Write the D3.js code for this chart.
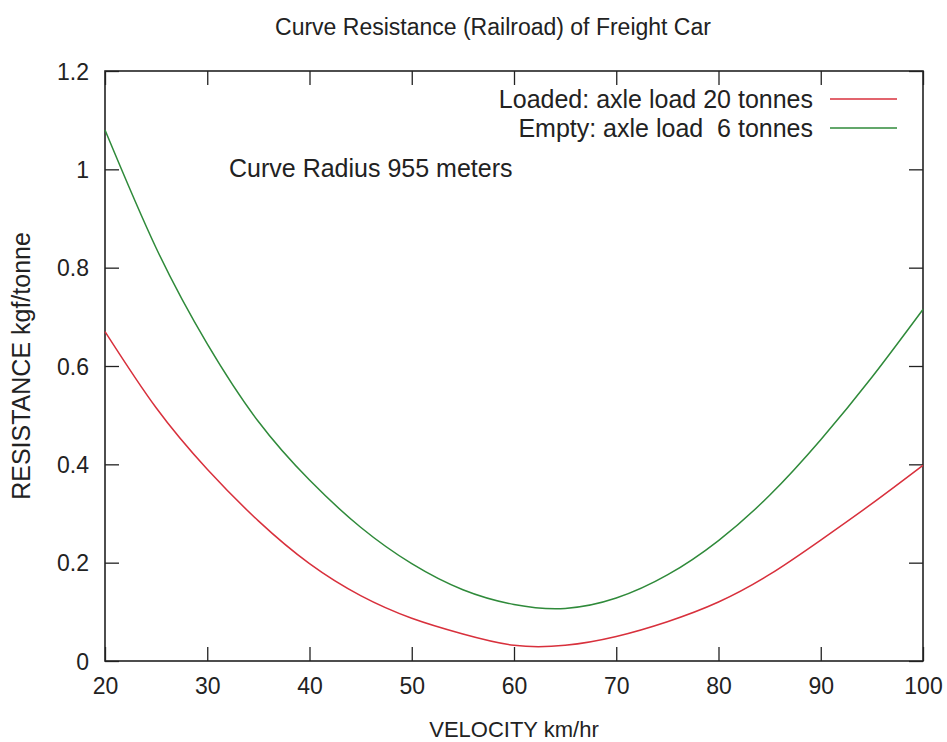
<!DOCTYPE html>
<html>
<head>
<meta charset="utf-8">
<script src="https://cdn.jsdelivr.net/npm/d3@7"></script>
<style>
  body { margin: 0; background: #fff; }
  text { font-family: "Liberation Sans", Arial, sans-serif; fill: #222; }
</style>
</head>
<body>
<svg id="chart" width="947" height="742"></svg>
<script>
const velocity = [20, 25, 30, 35, 40, 45, 50, 55, 60, 65, 70, 75, 80, 85, 90, 95, 100];
const loaded   = [0.67, 0.515, 0.39, 0.285, 0.198, 0.133, 0.087, 0.055, 0.032, 0.032, 0.05, 0.08, 0.12, 0.176, 0.246, 0.32, 0.398];
const empty    = [1.08, 0.84, 0.645, 0.487, 0.368, 0.272, 0.198, 0.145, 0.115, 0.107, 0.128, 0.175, 0.245, 0.337, 0.45, 0.577, 0.715];
const xTicks = [20, 30, 40, 50, 60, 70, 80, 90, 100];
const yTicks = [0, 0.2, 0.4, 0.6, 0.8, 1, 1.2];
const seriesNames = ["Loaded: axle load 20 tonnes", "Empty: axle load  6 tonnes"];
const seriesColors = ["#d8303c", "#2f8a3a"];
const titleText = "Curve Resistance (Railroad) of Freight Car";
const xLabel = "VELOCITY km/hr";
const yLabel = "RESISTANCE kgf/tonne";
const note = "Curve Radius 955 meters";

const svg = d3.select("#chart");
const L = 105, R = 923, T = 71, B = 661;
const x = d3.scaleLinear().domain([20, 100]).range([L, R]);
const y = d3.scaleLinear().domain([0, 1.2]).range([B, T]);

const tl = 14;
const axB = svg.append("g").attr("transform", `translate(0,${B})`)
  .call(d3.axisBottom(x).tickValues(xTicks).tickSizeInner(-tl).tickSizeOuter(0).tickPadding(17).tickFormat(d3.format("d")));
const axT = svg.append("g").attr("transform", `translate(0,${T})`)
  .call(d3.axisTop(x).tickValues(xTicks).tickSizeInner(-tl).tickSizeOuter(0).tickFormat(""));
const axL = svg.append("g").attr("transform", `translate(${L},0)`)
  .call(d3.axisLeft(y).tickValues(yTicks).tickSizeInner(-tl).tickSizeOuter(0).tickPadding(16).tickFormat(d => d3.format("~g")(d)));
const axR = svg.append("g").attr("transform", `translate(${R},0)`)
  .call(d3.axisRight(y).tickValues(yTicks).tickSizeInner(-tl).tickSizeOuter(0).tickFormat(""));
[axB, axT, axL, axR].forEach(a => {
  a.select(".domain").remove();
  a.selectAll("line").attr("stroke", "#222").attr("stroke-width", 1.3);
  a.selectAll("text").style("font-size", "23px").style("font-family", "Liberation Sans, Arial, sans-serif").attr("fill", "#222");
});
axB.selectAll("text").attr("dy", "0.71em");
axL.selectAll("text").attr("dy", "0.35em");

svg.append("rect").attr("x", L).attr("y", T).attr("width", R - L).attr("height", B - T)
  .attr("fill", "none").attr("stroke", "#222").attr("stroke-width", 1.6);

const line = d3.line().x((d, i) => x(velocity[i])).y(d => y(d)).curve(d3.curveNatural);
[loaded, empty].forEach((s, k) => {
  svg.append("path").datum(s).attr("d", line).attr("fill", "none")
    .attr("stroke", seriesColors[k]).attr("stroke-width", 1.5);
});

const legY = [99, 128];
seriesNames.forEach((n, k) => {
  svg.append("text").attr("x", 813).attr("y", legY[k]).attr("dy", "0.35em")
    .attr("text-anchor", "end").style("font-size", "25px").style("white-space", "pre")
    .attr("xml:space", "preserve").text(n);
  svg.append("line").attr("x1", 830).attr("x2", 897).attr("y1", legY[k]).attr("y2", legY[k])
    .attr("stroke", seriesColors[k]).attr("stroke-width", 1.5);
});

svg.append("text").attr("x", 229).attr("y", 168).attr("dy", "0.35em").style("font-size", "25px").text(note);

svg.append("text").attr("x", 493).attr("y", 27).attr("dy", "0.35em")
  .attr("text-anchor", "middle").style("font-size", "23px").text(titleText);
svg.append("text").attr("x", (L + R) / 2).attr("y", 729).attr("dy", "0.35em")
  .attr("text-anchor", "middle").style("font-size", "22px").text(xLabel);
svg.append("text").attr("transform", `translate(21,${(T + B) / 2}) rotate(-90)`).attr("dy", "0.35em")
  .attr("text-anchor", "middle").style("font-size", "25px").text(yLabel);
</script>
</body>
</html>
